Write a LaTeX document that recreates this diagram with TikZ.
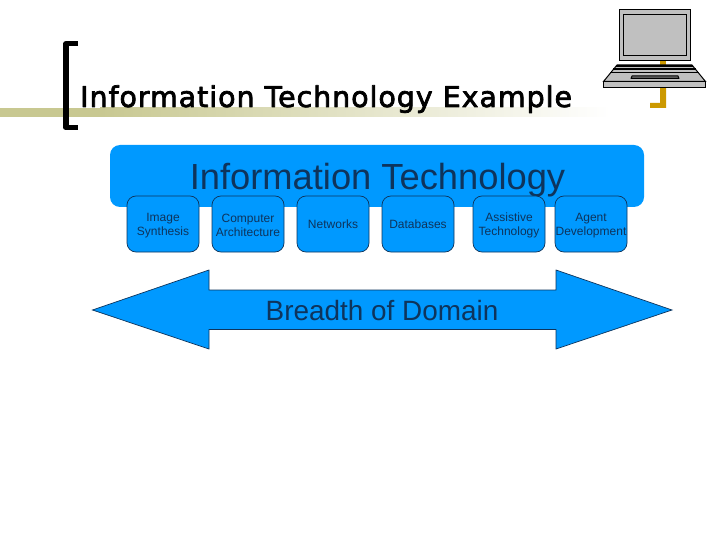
\documentclass[tikz,border=0pt]{standalone}
\usepackage{fontspec}
\setmainfont{Liberation Sans}
\newfontfamily\titlefont[FakeBold=2.5,LetterSpace=3.3]{DejaVu Sans}
\definecolor{skyfill}{RGB}{0,153,255}
\definecolor{navytext}{RGB}{14,52,92}
\definecolor{olivebar}{RGB}{200,200,145}
\definecolor{goldbar}{RGB}{204,153,0}
\definecolor{laptopgray}{RGB}{192,192,192}
\usetikzlibrary{positioning}
\newcommand{\upline}{\rule{0pt}{12pt}}
\tikzset{
	fieldbox/.style={draw=navytext,line width=0.7pt,fill=skyfill,rounded corners=9pt,minimum width=72pt,minimum height=56pt,inner sep=0pt,align=center,text=navytext,font=\fontsize{12}{14}\selectfont},
	laptopline/.style={draw=black,fill=laptopgray,line width=1pt,line join=miter}
}
\begin{document}
\begin{tikzpicture}[x=1pt,y=-1pt,line join=round]
	\useasboundingbox (0,0) rectangle (720,540);
	\fill[white] (0,0) rectangle (720,540);
	% title band and brackets
	\fill[olivebar] (0,108) rectangle (100,117);
	\shade[left color=olivebar,right color=white] (100,108) rectangle (610,117);
	\draw[line width=5.5pt,line cap=butt] (78,43.7)--(66,43.7)--(66,127.7)--(78,127.7);
	\fill[goldbar] (660,61) rectangle (666,65);
	\fill[goldbar] (660,88) rectangle (666,108) (650,103) rectangle (666,108);
	\node[anchor=base west,inner sep=0pt,font=\titlefont\fontsize{28.5}{32}\selectfont] (title) at (80,107) {Information Technology Example};
	% laptop
	\draw[laptopline] (619.5,9.5) rectangle (690.5,61);
	\draw[laptopline] (623.5,14.5) rectangle (686.5,56);
	\draw[laptopline] (617,65)--(692,65)--(705.5,81.5)--(603.5,81.5)--cycle;
	\draw[laptopline] (603.5,81.5) rectangle (705.5,88);
	\foreach \yy/\xa/\xb in {66/616/693,69/613/696,72.5/610/699}
		\draw[line width=1.2pt] (\xa,\yy)--(\xb,\yy);
	\draw[line width=1pt,fill=black!60] (632,76)--(678,76)--(679,78.5)--(631,78.5)--cycle;
	% main band
	\node[fill=skyfill,rounded corners=10pt,minimum width=534pt,minimum height=62pt,inner sep=0pt] (itband) at (377,176) {};
	\node[anchor=base,text=navytext,inner sep=0pt,font=\fontsize{36.3}{40}\selectfont] (ittext) at (377.5,190) {Information Technology};
	% six fields
	\node[fieldbox] (image) at (163,224) {\upline Image\\Synthesis};
	\node[fieldbox] (arch) at (248,224) {\upline Computer\\Architecture};
	\node[fieldbox] (net) at (333,224) {Networks};
	\node[fieldbox] (db) at (418,224) {Databases};
	\node[fieldbox] (assist) at (509,224) {\upline Assistive\\Technology};
	\node[fieldbox] (agent) at (591,224) {\upline Agent\\Development};
	% double arrow
	\coordinate (tipL) at (92.5,310);
	\coordinate (tipR) at (672,310);
	\draw[navytext,line width=0.7pt,fill=skyfill,line join=miter] (tipL)--(209,270)--(209,290)--(556,290)--(556,270)--(tipR)--(556,349)--(556,329.5)--(209,329.5)--(209,349)--cycle;
	\node[anchor=base,text=navytext,inner sep=0pt,font=\fontsize{27.9}{32}\selectfont] (breadth) at (382,320) {Breadth of Domain};
\end{tikzpicture}
\end{document}
